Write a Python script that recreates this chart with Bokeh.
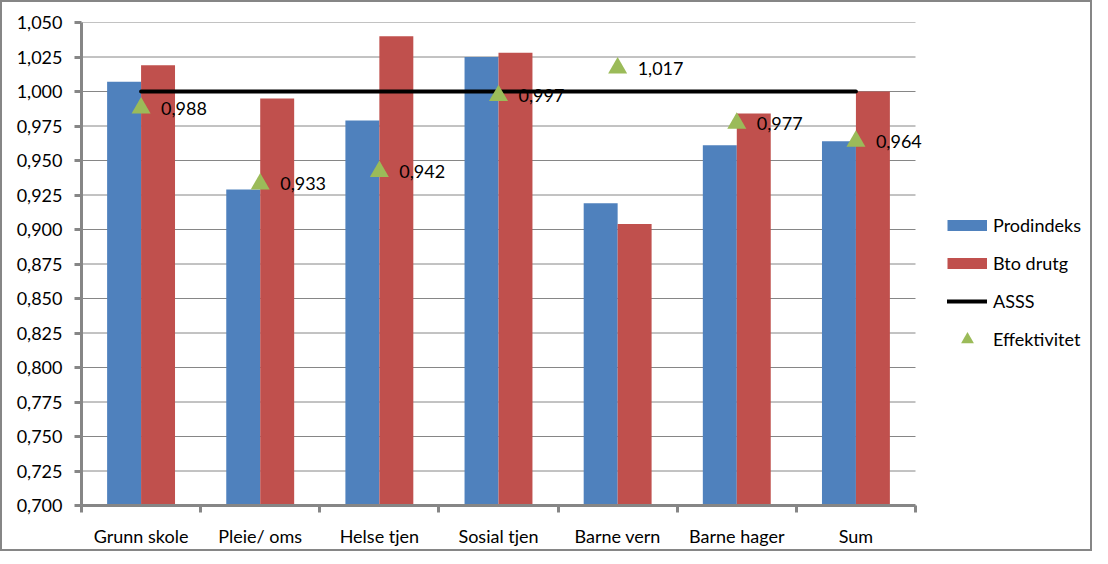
import numpy as np
from bokeh.plotting import figure
from bokeh.models import ColumnDataSource, FixedTicker, Range1d, Legend, LegendItem, LabelSet
from bokeh.core.properties import value
from bokeh.embed import file_html
from bokeh.resources import INLINE

# ---- data ----
categories = ["Grunn skole", "Pleie/ oms", "Helse tjen", "Sosial tjen",
              "Barne vern", "Barne hager", "Sum"]
prodindeks = [1.007, 0.929, 0.979, 1.025, 0.919, 0.961, 0.964]
bto_drutg = [1.019, 0.995, 1.040, 1.028, 0.904, 0.984, 1.000]
asss = [1.000, 1.000, 1.000, 1.000, 1.000, 1.000, 1.000]
effektivitet = [0.988, 0.933, 0.942, 0.997, 1.017, 0.977, 0.964]
y_ticks = [0.700, 0.725, 0.750, 0.775, 0.800, 0.825, 0.850, 0.875,
           0.900, 0.925, 0.950, 0.975, 1.000, 1.025, 1.050]

FONT = "Lato"
BLUE = "#4F81BD"
RED = "#C0504D"
GREEN = "#9BBB59"
GRAY = "#868686"

n = len(categories)
centers = np.arange(n) + 0.5
bw = 0.285

# layout (pixels): category band of 834 px for the 7 groups; the frame
# continues to the right so the legend can sit inside it without clipping
CAT_PX = 834
FRAME_W = 1005
x_end = n * FRAME_W / CAT_PX

src = ColumnDataSource(dict(
    x=centers,
    xb=centers - bw / 2,
    xr=centers + bw / 2,
    prod=prodindeks,
    bto=bto_drutg,
    asss=asss,
    eff=effektivitet,
    lab=[f"{v:.3f}".replace(".", ",") for v in effektivitet],
))

p = figure(frame_width=FRAME_W, frame_height=483,
           x_range=Range1d(0, x_end), y_range=Range1d(y_ticks[0], y_ticks[-1]),
           output_backend="svg", toolbar_location=None,
           min_border_left=79, min_border_right=4,
           min_border_top=20, min_border_bottom=41)
p.styles = {"border": f"2px solid {GRAY}"}
p.outline_line_color = None
p.background_fill_color = "white"
p.border_fill_color = "white"

# horizontal gridlines, only across the categories
p.xgrid.visible = False
p.ygrid.visible = False
p.segment(x0=0, x1=n, y0=y_ticks, y1=y_ticks, line_color=GRAY, line_width=1)

# bars
p.vbar(x="xb", top="prod", bottom=y_ticks[0], width=bw, source=src,
       fill_color=BLUE, line_color=None)
p.vbar(x="xr", top="bto", bottom=y_ticks[0], width=bw, source=src,
       fill_color=RED, line_color=None)

# data labels (under the line)
labels = LabelSet(x="x", y="eff", text="lab", source=src, x_offset=20,
                  text_baseline="middle", text_align="left",
                  text_font=value(FONT), text_font_size="18px",
                  text_color="black", level="glyph")
p.add_layout(labels)

r_asss = p.line(x="x", y="asss", source=src, line_color="black",
                line_width=4, line_cap="round")
r_eff = p.scatter(x="x", y="eff", source=src, marker="triangle", size=19,
                  fill_color=GREEN, line_color=None)

# legend swatches for the bar series (proxies drawn as thick strokes)
proxy = ColumnDataSource(dict(x0=[np.nan], y0=[np.nan], x1=[np.nan], y1=[np.nan]))
leg_prod = p.segment(x0="x0", y0="y0", x1="x1", y1="y1", source=proxy,
                     line_color=BLUE, line_width=11, line_cap="butt")
leg_bto = p.segment(x0="x0", y0="y0", x1="x1", y1="y1", source=proxy,
                    line_color=RED, line_width=11, line_cap="butt")

# axes
xa = p.xaxis[0]
xa.bounds = (0, n)
xa.ticker = FixedTicker(ticks=list(centers), minor_ticks=list(np.arange(n + 1)))
xa.major_label_overrides = {float(c): lab for c, lab in zip(centers, categories)}
xa.major_tick_line_color = None
xa.major_tick_out = 0
xa.major_tick_in = 0
xa.minor_tick_line_color = GRAY
xa.minor_tick_line_width = 3
xa.minor_tick_out = 7
xa.minor_tick_in = 0
xa.axis_line_color = GRAY
xa.axis_line_width = 3
xa.major_label_standoff = 12
xa.major_label_text_font = FONT
xa.major_label_text_font_size = "18px"
xa.major_label_text_color = "black"

ya = p.yaxis[0]
ya.ticker = FixedTicker(ticks=y_ticks)
ya.major_label_overrides = {t: f"{t:.3f}".replace(".", ",") for t in y_ticks}
ya.major_tick_line_color = GRAY
ya.major_tick_line_width = 3
ya.major_tick_out = 7
ya.major_tick_in = 0
ya.minor_tick_line_color = None
ya.axis_line_color = GRAY
ya.axis_line_width = 3
ya.major_label_standoff = 12
ya.major_label_text_font = FONT
ya.major_label_text_font_size = "18px"
ya.major_label_text_color = "black"

legend = Legend(items=[
    LegendItem(label="Prodindeks", renderers=[leg_prod]),
    LegendItem(label="Bto drutg", renderers=[leg_bto]),
    LegendItem(label="ASSS", renderers=[r_asss]),
    LegendItem(label="Effektivitet", renderers=[r_eff]),
], location=(866, 150))
legend.glyph_width = 40
legend.glyph_height = 32
legend.label_height = 20
legend.spacing = 6
legend.padding = 0
legend.margin = 0
legend.label_standoff = 6
legend.border_line_color = None
legend.background_fill_alpha = 0
legend.label_text_font = FONT
legend.label_text_font_size = "18px"
legend.label_text_color = "black"
p.add_layout(legend, "center")

open("out.html", "w").write(file_html(p, INLINE))
